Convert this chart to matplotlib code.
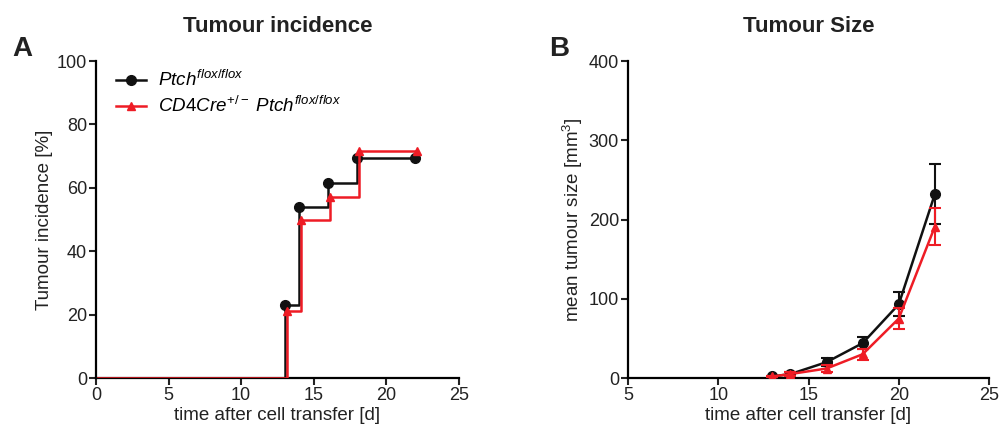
import matplotlib
matplotlib.use("Agg")
import matplotlib.pyplot as plt
import matplotlib.transforms as mtransforms

plt.rcParams["font.family"] = ["Liberation Sans", "DejaVu Sans"]
plt.rcParams["mathtext.fontset"] = "custom"
plt.rcParams["mathtext.rm"] = "Liberation Sans"
plt.rcParams["mathtext.it"] = "Liberation Sans:italic"
plt.rcParams["mathtext.bf"] = "Liberation Sans:bold"

# Panel A: tumour incidence (step curves)
inc_days = [0, 13, 14, 16, 18, 22]
inc_ctrl = [0, 23, 54, 61.5, 69.5, 69.5]
inc_cre = [0, 21, 50, 57, 71.5, 71.5]

# Panel B: mean tumour size with error bars
size_days = [13, 14, 16, 18, 20, 22]
size_ctrl = [2, 5, 20, 44, 93, 232]
size_ctrl_err = [1, 2, 5, 8, 15, 38]
size_cre = [2, 5, 12, 30, 75, 191]
size_cre_err = [1, 2, 5, 7, 13, 23]

LABEL_CTRL = r"$Ptch^{flox/flox}$"
LABEL_CRE = r"$CD4Cre^{+/-}\ Ptch^{flox/flox}$"
BLACK = "#111111"
RED = "#ee1c25"
TXT = "#222222"
LABEL_SIZE = 13.5
TICK_SIZE = 13


def style_axes(ax):
    for side in ("top", "right"):
        ax.spines[side].set_visible(False)
    for side in ("left", "bottom"):
        ax.spines[side].set_linewidth(1.6)
    ax.tick_params(direction="out", length=5, width=1.5, labelsize=TICK_SIZE,
                   colors=TXT, pad=1.5)


fig = plt.figure(figsize=(10.01, 4.34), dpi=100)
ax_a = fig.add_axes([0.0959, 0.129, 0.3626, 0.7304])
ax_b = fig.add_axes([0.6274, 0.129, 0.3606, 0.7304])

# --- Panel A ---
# red curve nudged 2 px right, as in the original figure
red_shift = mtransforms.ScaledTranslation(2 / 100, 0, fig.dpi_scale_trans)
ax_a.step(inc_days, inc_ctrl, where="post", color=BLACK, lw=1.8, zorder=3)
ax_a.plot(inc_days[1:], inc_ctrl[1:], "o", color=BLACK, ms=7, zorder=4)
ax_a.step(inc_days, inc_cre, where="post", color=RED, lw=1.8, zorder=5,
          transform=ax_a.transData + red_shift)
ax_a.plot(inc_days[1:], inc_cre[1:], "^", color=RED, ms=6, zorder=6,
          transform=ax_a.transData + red_shift)
ax_a.plot([], [], "-o", color=BLACK, ms=7, lw=1.8, label=LABEL_CTRL)
ax_a.plot([], [], "-^", color=RED, ms=6, lw=1.8, label=LABEL_CRE)

ax_a.set_xlim(0, 25)
ax_a.set_ylim(0, 100)
ax_a.set_xticks([0, 5, 10, 15, 20, 25])
ax_a.set_yticks([0, 20, 40, 60, 80, 100])
ax_a.set_xlabel("time after cell transfer [d]", fontsize=LABEL_SIZE, color=TXT, labelpad=2)
ax_a.set_ylabel("Tumour incidence [%]", fontsize=LABEL_SIZE, color=TXT, labelpad=3)
ax_a.set_title("Tumour incidence", fontsize=16, fontweight="bold", pad=21, color=TXT)
style_axes(ax_a)
ax_a.legend(loc="upper left", bbox_to_anchor=(0.03, 1.0), frameon=False,
            fontsize=13.5, handlelength=1.6, handletextpad=0.6,
            labelspacing=0.3, borderaxespad=0.1)
fig.text(0.012, 0.87, "A", fontsize=20, fontweight="bold", color=TXT)

# --- Panel B ---
ax_b.errorbar(size_days, size_ctrl, yerr=size_ctrl_err, color=BLACK, marker="o",
              ms=7, lw=1.8, capsize=4.5, elinewidth=1.5, capthick=1.5, zorder=3)
ax_b.errorbar(size_days, size_cre, yerr=size_cre_err, color=RED, marker="^",
              ms=6, lw=1.8, capsize=4.5, elinewidth=1.5, capthick=1.5, zorder=4)
ax_b.set_xlim(5, 25)
ax_b.set_ylim(0, 400)
ax_b.set_xticks([5, 10, 15, 20, 25])
ax_b.set_yticks([0, 100, 200, 300, 400])
ax_b.set_xlabel("time after cell transfer [d]", fontsize=LABEL_SIZE, color=TXT, labelpad=2)
ax_b.set_ylabel(r"mean tumour size [mm$^3$]", fontsize=LABEL_SIZE, color=TXT, labelpad=3)
ax_b.set_title("Tumour Size", fontsize=16, fontweight="bold", pad=21, color=TXT)
style_axes(ax_b)
fig.text(0.549, 0.87, "B", fontsize=20, fontweight="bold", color=TXT)

fig.savefig("out.png", dpi=100)
